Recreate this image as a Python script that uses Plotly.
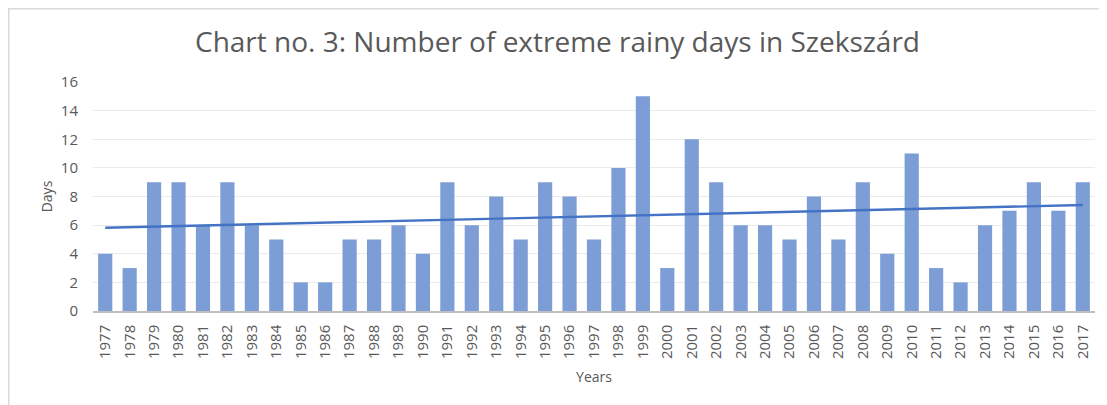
import numpy as np
import plotly.graph_objects as go

years = [str(y) for y in range(1977, 2018)]
days = [4, 3, 9, 9, 6, 9, 6, 5, 2, 2, 5, 5, 6, 4, 9, 6, 8, 5, 9, 8, 5, 10, 15, 3,
        12, 9, 6, 6, 5, 8, 5, 9, 4, 11, 3, 2, 6, 7, 9, 7, 9]
y_ticks = [0, 2, 4, 6, 8, 10, 12, 14, 16]

# linear trendline (least squares over index)
idx = np.arange(len(days))
slope, intercept = np.polyfit(idx, days, 1)
trend = list(intercept + slope * idx)

# page body has an 8px margin, so the figure is offset by 8px
OFF = 8
W, H = 1107 - OFF, 405 - OFF
L, R, T, B = 93 - OFF, 12, 82 - OFF, 94
pw, ph = W - L - R, H - T - B

fig = go.Figure()
fig.add_trace(go.Bar(x=years, y=days, marker=dict(color="#7C9DD6", line=dict(width=0)),
                     showlegend=False))
fig.add_trace(go.Scatter(x=years, y=trend, mode="lines",
                         line=dict(color="#4472C4", width=2.4), showlegend=False))

gray = "#595959"
fig.update_layout(
    width=W, height=H,
    margin=dict(l=L, r=R, t=T, b=B),
    paper_bgcolor="white", plot_bgcolor="white",
    bargap=0.42,
    font=dict(family="Open Sans", color=gray),
    title=dict(text="Chart no. 3: Number of extreme rainy days in Szekszárd",
               x=0.5, xanchor="center", y=1 - (42 - OFF) / H, yanchor="middle",
               font=dict(size=28, color=gray, family="Open Sans")),
    xaxis=dict(type="category", tickangle=-90, tickfont=dict(size=15, color=gray),
               showline=True, linecolor="#BFBFBF", linewidth=1.5, ticks="",
               ticklabelstandoff=6,
               title=dict(text="Years", font=dict(size=14, color=gray), standoff=14),
               showgrid=False, automargin=False),
    yaxis=dict(range=[0, 16], tickvals=y_ticks, tickfont=dict(size=15, color=gray),
               showgrid=True, gridcolor="#EBEBEB", gridwidth=1.3, zeroline=False,
               ticks="", ticklabelstandoff=14, automargin=False,
               title=dict(text="Days", font=dict(size=14, color=gray), standoff=4)),
)

# outer chart border (left/top edges visible)
fig.add_shape(type="rect", xref="paper", yref="paper",
              x0=(0.75 - L) / pw, x1=(W + 20 - L) / pw,
              y0=-(B + 20) / ph, y1=(H - B - 0.75) / ph,
              line=dict(color="#D9D9D9", width=1.5), fillcolor="rgba(0,0,0,0)", layer="below")

fig.write_html("out.html")
